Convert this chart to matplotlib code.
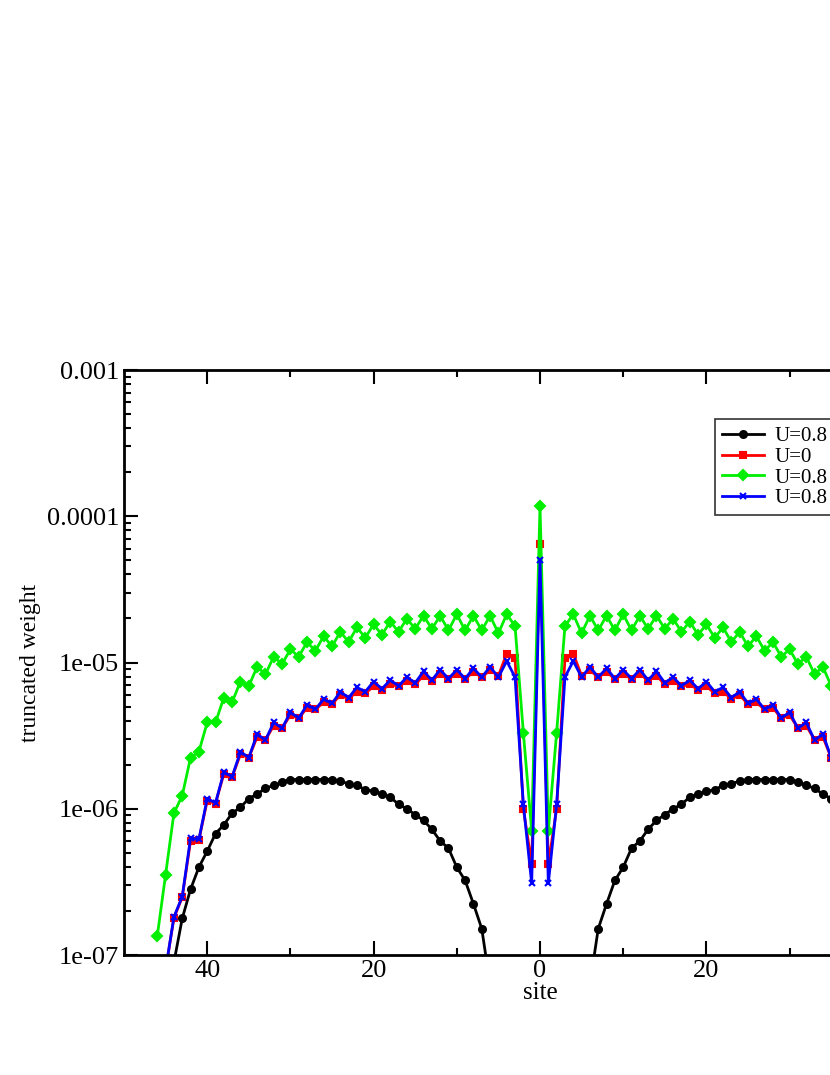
import numpy as np
import matplotlib
matplotlib.use("Agg")
import matplotlib.pyplot as plt

# log10 of truncated weight, for sites 1..N on one side (mirror symmetric), plus centre value
black_center = -10.0
black_half = [-9.5, -9.0, -8.5, -8.0, -7.6, -7.2, -6.82, -6.65, -6.49, -6.40,
              -6.27, -6.22, -6.14, -6.08, -6.04, -6.0, -5.97, -5.92, -5.9, -5.88,
              -5.87, -5.84, -5.83, -5.81, -5.80, -5.80, -5.80, -5.80, -5.80, -5.80,
              -5.82, -5.84, -5.86, -5.90, -5.93, -5.99, -6.03, -6.11, -6.17, -6.29,
              -6.40, -6.55, -6.75, -7.05, -7.4]
green_center = -3.93
green_half = [-6.15, -5.48, -4.75, -4.67, -4.80, -4.68, -4.78, -4.68, -4.78, -4.67,
              -4.78, -4.68, -4.77, -4.68, -4.77, -4.70, -4.79, -4.72, -4.81, -4.74,
              -4.83, -4.76, -4.86, -4.79, -4.89, -4.82, -4.92, -4.86, -4.96, -4.91,
              -5.01, -4.96, -5.08, -5.03, -5.16, -5.13, -5.27, -5.24, -5.41, -5.41,
              -5.61, -5.65, -5.91, -6.03, -6.45, -6.87]
red_center = -4.19
red_half = [-6.38, -6.0, -4.97, -4.94, -5.09, -5.052, -5.101, -5.064, -5.113, -5.076,
            -5.113, -5.076, -5.125, -5.089, -5.15, -5.125, -5.162, -5.15, -5.186, -5.162,
            -5.211, -5.199, -5.248, -5.223, -5.284, -5.272, -5.321, -5.309, -5.382, -5.358,
            -5.45, -5.431, -5.529, -5.509, -5.651, -5.627, -5.781, -5.761, -5.964, -5.945,
            -6.214, -6.219, -6.605, -6.747, -7.1]
blue_center = -4.30
blue_half = [-6.51, -5.97, -5.10, -4.99, -5.10, -5.03, -5.10, -5.04, -5.11, -5.05,
             -5.11, -5.05, -5.12, -5.06, -5.14, -5.10, -5.16, -5.12, -5.18, -5.13,
             -5.20, -5.17, -5.24, -5.20, -5.28, -5.25, -5.32, -5.29, -5.38, -5.34,
             -5.45, -5.41, -5.53, -5.49, -5.65, -5.61, -5.78, -5.75, -5.96, -5.93,
             -6.21, -6.20, -6.60, -6.74, -7.1]
labels = ["U=0.8", "U=0", "U=0.8", "U=0.8"]
xtick_vals = [-40, -20, 0, 20, 40]
ytick_vals = [1e-7, 1e-6, 1e-5, 1e-4, 1e-3]
ytick_labels = ["1e-07", "1e-06", "1e-05", "0.0001", "0.001"]

def full(center, half):
    h = np.array(half)
    y = np.concatenate([h[::-1], [center], h])
    x = np.concatenate([-np.arange(len(h), 0, -1), [0], np.arange(1, len(h) + 1)])
    return x, 10.0 ** y

plt.rcParams["font.family"] = "Liberation Serif"
fig = plt.figure(figsize=(8.3, 10.75), dpi=100)
ax = fig.add_axes([0.1494, 0.1116, 1.0024, 0.5442])

series = [(black_center, black_half, "black", "o", 5),
          (red_center, red_half, "#ff0000", "s", 5),
          (green_center, green_half, "#00ee00", "D", 5),
          (blue_center, blue_half, "#0000ff", "x", 5)]
for (c, h, col, m, ms), lab in zip(series, labels):
    x, y = full(c, h)
    ax.plot(x, y, color=col, marker=m, ms=ms, lw=2, label=lab, mew=1.5)

ax.set_yscale("log")
ax.set_ylim(1e-7, 1e-3)
ax.set_xlim(-50, 50)
ax.set_xticks(xtick_vals)
ax.set_xticklabels([str(abs(v)) for v in xtick_vals])
ax.set_xticks([-30, -10, 10, 30], minor=True)
ax.set_yticks(ytick_vals)
ax.set_yticklabels(ytick_labels)
ax.tick_params(which="both", direction="in", top=True, right=True, labelsize=19, width=1.5)
ax.tick_params(which="major", length=10)
ax.tick_params(which="minor", length=5)
for s in ax.spines.values():
    s.set_linewidth(2)
ax.set_xlabel("site", fontsize=18, labelpad=0)
ax.set_ylabel("truncated weight", fontsize=17)

leg = fig.legend(loc="upper left", bbox_to_anchor=(0.849, 0.6195), fontsize=15,
                 frameon=True, fancybox=False, edgecolor="black", handlelength=2.0,
                 handletextpad=0.5, borderpad=0.35, labelspacing=0.05)
leg.get_frame().set_linewidth(1.2)
fig.savefig("out.png", dpi=100)
